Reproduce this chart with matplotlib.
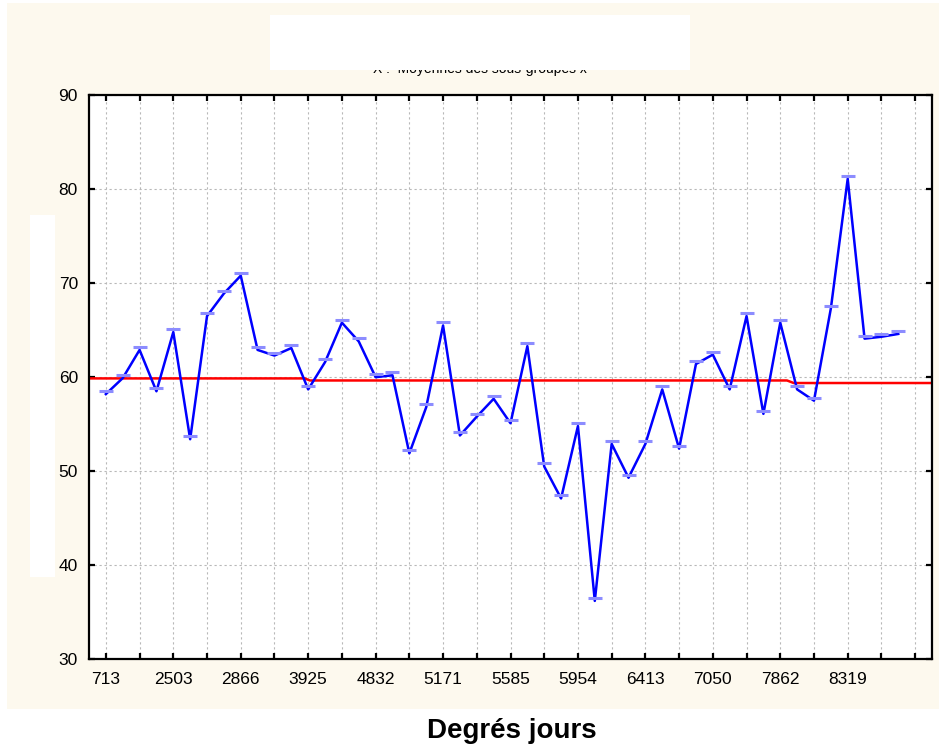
import matplotlib
matplotlib.use("Agg")
import matplotlib.pyplot as plt
import matplotlib.transforms as mtransforms
from matplotlib.patches import Rectangle

plt.rcParams['font.family'] = ['Liberation Sans', 'DejaVu Sans']

# Moyennes des sous-groupes
moyennes = [58.5, 60.2, 63.2, 58.8, 65.1, 53.7, 66.8, 69.2, 71.1, 63.2,
            62.6, 63.4, 59.0, 61.9, 66.1, 64.1, 60.3, 60.5, 52.2, 57.1,
            65.8, 54.1, 56.1, 58.0, 55.4, 63.6, 50.8, 47.4, 55.1, 36.5,
            53.2, 49.6, 53.2, 59.0, 52.7, 61.7, 62.7, 59.0, 66.8, 56.4,
            66.1, 59.0, 57.8, 67.6, 81.4, 64.4, 64.6, 64.9]

# ligne centrale (rouge), par paliers
centre_x = [-1, 11.8, 12.1, 40.4, 40.8, 49]
centre_y = [59.85, 59.85, 59.63, 59.63, 59.36, 59.36]

etiquettes = ['713', '2503', '2866', '3925', '4832', '5171',
              '5585', '5954', '6413', '7050', '7862', '8319']

W, H = 939, 751
fig = plt.figure(figsize=(W / 100, H / 100), dpi=100, facecolor='white')

# fond crème
fig.patches.append(Rectangle((7 / W, 1 - 709 / H), (W - 7) / W, (709 - 3) / H,
                             transform=fig.transFigure, facecolor='#fdf9ee',
                             edgecolor='none', zorder=-5))

ax = fig.add_axes([89 / W, 1 - 659 / H, (932 - 89) / W, (659 - 95) / H])
ax.set_zorder(2)
ax.set_facecolor('white')

x = list(range(len(moyennes)))
decal = mtransforms.ScaledTranslation(0, -0.03, fig.dpi_scale_trans)
ax.plot(x, moyennes, color='#0000ff', lw=1.8, zorder=3,
        transform=ax.transData + decal)
ax.plot(x, moyennes, ls='none', marker='_', ms=9.5, mew=2.2,
        color='#8c8cff', zorder=4)
ax.plot(centre_x, centre_y, color='#ff0000', lw=1.8, zorder=2)

ax.set_xlim(-1, 49)
ax.set_ylim(30, 90)
ax.set_yticks(range(30, 91, 10))

ticks = list(range(0, 49, 2))
ax.set_xticks(ticks)
labels = []
for t in ticks:
    labels.append(etiquettes[t // 4] if t % 4 == 0 and t // 4 < len(etiquettes) else '')
ax.set_xticklabels(labels)

ax.grid(True, color='#b8b8b8', ls=(0, (2, 2.5)), lw=0.8, zorder=1)
ax.tick_params(direction='in', length=4.5, width=1.6, top=True, right=True,
               labelsize=12.5, colors='black')
ax.tick_params(axis='x', pad=9)
ax.tick_params(axis='y', pad=8)
for s in ax.spines.values():
    s.set_linewidth(1.6)
    s.set_color('black')

# titre (en grande partie masqué)
fig.text(480 / W, 1 - 73.5 / H, 'X :  Moyennes des sous-groupes x', ha='center',
         va='baseline', fontsize=10, zorder=1)
fig.patches.append(Rectangle((270 / W, 1 - 70 / H), 420 / W, 55 / H,
                             transform=fig.transFigure, facecolor='white',
                             edgecolor='none', zorder=5))
# bloc masquant l'étiquette de l'axe y
fig.patches.append(Rectangle((30 / W, 1 - 577 / H), 25 / W, (577 - 215) / H,
                             transform=fig.transFigure, facecolor='white',
                             edgecolor='none', zorder=5))

fig.text(512 / W, 1 - 731 / H, 'Degrés jours', ha='center', va='center',
         fontsize=20, fontweight='bold')

fig.savefig('out.png', dpi=100, facecolor=fig.get_facecolor())
